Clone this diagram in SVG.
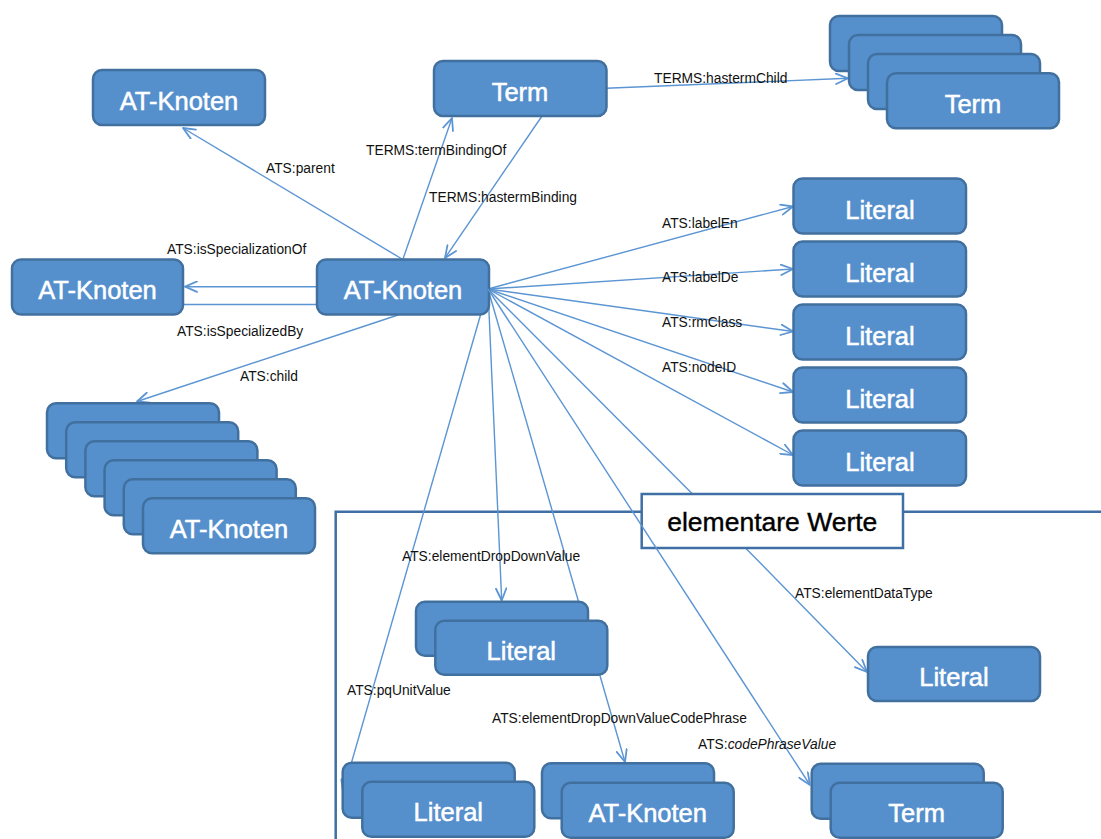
<svg xmlns="http://www.w3.org/2000/svg" width="1101" height="839" viewBox="0 0 1101 839">
  <defs>
    <marker id="arrow" viewBox="0 0 14 12" refX="13" refY="6" markerWidth="14" markerHeight="12" markerUnits="userSpaceOnUse" orient="auto">
      <path d="M1,0.8 L13,6 L1,11.2" fill="none" stroke="#5b95d3" stroke-width="1.8" stroke-linecap="round" stroke-linejoin="round"/>
    </marker>
  </defs>
  <style>
    .node rect { fill: #5590cd; stroke: #41709f; stroke-width: 2.5; }
    .node text { fill: #ffffff; stroke: #ffffff; stroke-width: 0.5; font-family: "Liberation Sans", Arial, sans-serif; font-size: 25.5px; text-anchor: middle; }
    .conn { fill: none; stroke: #5b95d3; stroke-width: 1.4; }
    .arr { marker-end: url(#arrow); }
    .lbl { fill: #111111; font-family: "Liberation Sans", Arial, sans-serif; font-size: 13.8px; }
    .frame { fill: none; stroke: #3f6fa4; stroke-width: 2.5; }
  </style>

  <rect x="0" y="0" width="1101" height="839" fill="#ffffff"/>

  <!-- region frame for elementary values -->
  <g id="frame-elementare-werte">
    <path class="frame" d="M335.7,839 V511.7 H1101"/>
  </g>

  <!-- connectors -->
  <g id="connectors">
    <line class="conn arr" x1="402" y1="259" x2="183" y2="128"/>
    <line class="conn arr" x1="403" y1="259" x2="452" y2="118"/>
    <line class="conn arr" x1="542" y1="116" x2="445" y2="258"/>
    <line class="conn arr" x1="606" y1="88.3" x2="848" y2="78.3"/>
    <line class="conn arr" x1="317" y1="286.7" x2="185" y2="286.7"/>
    <line class="conn" x1="183" y1="304.5" x2="317" y2="304.5"/>
    <line class="conn arr" x1="398" y1="315" x2="137" y2="401.5"/>
    <line class="conn arr" x1="488" y1="289" x2="793" y2="206.5"/>
    <line class="conn arr" x1="488" y1="289" x2="793" y2="269"/>
    <line class="conn arr" x1="488" y1="289" x2="793" y2="331.5"/>
    <line class="conn arr" x1="488" y1="289" x2="793" y2="392"/>
    <line class="conn arr" x1="488" y1="289" x2="793" y2="455"/>
    <line class="conn arr" x1="488" y1="289" x2="501.7" y2="600.5"/>
    <line class="conn arr" x1="488" y1="289" x2="625" y2="762"/>
    <line class="conn arr" x1="488" y1="289" x2="343" y2="792"/>
    <path class="conn arr" d="M488,289 L692,493.5 M746,548.5 L867,672"/>
  </g>

  <!-- nodes -->
  <g id="node-at-knoten-parent" class="node">
    <rect x="93" y="70" width="172" height="55" rx="9"/>
    <text x="179" y="109.5">AT-Knoten</text>
  </g>
  <g id="node-term" class="node">
    <rect x="434" y="61" width="172.5" height="55" rx="9"/>
    <text x="520" y="100.5">Term</text>
  </g>
  <g id="node-term-children" class="node">
    <rect x="830" y="16" width="172" height="55" rx="9"/>
    <rect x="849" y="35" width="172" height="55" rx="9"/>
    <rect x="868" y="54" width="172" height="55" rx="9"/>
    <rect x="887" y="73.3" width="172" height="55" rx="9"/>
    <text x="973" y="112.5">Term</text>
  </g>
  <g id="node-literal-labelEn" class="node">
    <rect x="793.5" y="178.5" width="172.5" height="55" rx="9"/>
    <text x="880" y="218.5">Literal</text>
  </g>
  <g id="node-literal-labelDe" class="node">
    <rect x="793.5" y="241.5" width="172.5" height="55" rx="9"/>
    <text x="880" y="281.5">Literal</text>
  </g>
  <g id="node-literal-rmClass" class="node">
    <rect x="793.5" y="304.5" width="172.5" height="55" rx="9"/>
    <text x="880" y="344.5">Literal</text>
  </g>
  <g id="node-literal-nodeID" class="node">
    <rect x="793.5" y="367.5" width="172.5" height="55" rx="9"/>
    <text x="880" y="407.5">Literal</text>
  </g>
  <g id="node-literal-5" class="node">
    <rect x="793.5" y="430.5" width="172.5" height="55" rx="9"/>
    <text x="880" y="470.5">Literal</text>
  </g>
  <g id="node-at-knoten-specialization" class="node">
    <rect x="12" y="259.5" width="171" height="55" rx="9"/>
    <text x="97.5" y="299">AT-Knoten</text>
  </g>
  <g id="node-at-knoten-center" class="node">
    <rect x="317" y="259.5" width="172" height="55" rx="9"/>
    <text x="403" y="299">AT-Knoten</text>
  </g>
  <g id="node-at-knoten-children" class="node">
    <rect x="47" y="403.3" width="172" height="55" rx="9"/>
    <rect x="66.2" y="422.3" width="172" height="55" rx="9"/>
    <rect x="85.4" y="441.3" width="172" height="55" rx="9"/>
    <rect x="104.6" y="460.3" width="172" height="55" rx="9"/>
    <rect x="123.8" y="479.3" width="172" height="55" rx="9"/>
    <rect x="143" y="498.3" width="172" height="55" rx="9"/>
    <text x="229" y="537.5">AT-Knoten</text>
  </g>
  <g id="node-label-elementare-werte">
    <rect x="641.7" y="494" width="261.3" height="54" fill="#ffffff" stroke="#3f6fa4" stroke-width="2.5"/>
    <text x="772.3" y="531" fill="#000000" stroke="#000000" stroke-width="0.4" font-family="Liberation Sans, Arial, sans-serif" font-size="26.5" text-anchor="middle">elementare Werte</text>
  </g>
  <g id="node-literal-dropdown" class="node">
    <rect x="416" y="601.7" width="172" height="54" rx="9"/>
    <rect x="435.3" y="620.7" width="172" height="54" rx="9"/>
    <text x="521.3" y="659.5">Literal</text>
  </g>
  <g id="node-literal-datatype" class="node">
    <rect x="868" y="647" width="172" height="54" rx="9"/>
    <text x="954" y="685.5">Literal</text>
  </g>
  <g id="node-literal-pqunit" class="node">
    <rect x="342.7" y="762.7" width="172" height="55" rx="9"/>
    <rect x="362.3" y="781.7" width="172" height="55" rx="9"/>
    <text x="448.3" y="821">Literal</text>
  </g>
  <g id="node-at-knoten-codephrase" class="node">
    <rect x="542" y="763.3" width="172" height="55" rx="9"/>
    <rect x="561.7" y="782.7" width="172" height="55" rx="9"/>
    <text x="647.7" y="822">AT-Knoten</text>
  </g>
  <g id="node-term-codephrase" class="node">
    <rect x="811.7" y="763.7" width="172" height="55" rx="9"/>
    <rect x="830.7" y="782.7" width="172" height="55" rx="9"/>
    <text x="916.7" y="822">Term</text>
  </g>

  <!-- connector that runs across the region label -->
  <g id="connector-codephrasevalue">
    <line class="conn arr" x1="488" y1="289" x2="810" y2="785"/>
  </g>

  <!-- connector labels -->
  <g id="connector-labels">
    <text class="lbl" x="266" y="173">ATS:parent</text>
    <text class="lbl" x="366" y="155">TERMS:termBindingOf</text>
    <text class="lbl" x="429" y="202">TERMS:hastermBinding</text>
    <text class="lbl" x="654" y="83">TERMS:hastermChild</text>
    <text class="lbl" x="167" y="254">ATS:isSpecializationOf</text>
    <text class="lbl" x="177" y="336">ATS:isSpecializedBy</text>
    <text class="lbl" x="240" y="381">ATS:child</text>
    <text class="lbl" x="662" y="228">ATS:labelEn</text>
    <text class="lbl" x="662" y="282">ATS:labelDe</text>
    <text class="lbl" x="662" y="327">ATS:rmClass</text>
    <text class="lbl" x="662" y="372">ATS:nodeID</text>
    <text class="lbl" x="402" y="561">ATS:elementDropDownValue</text>
    <text class="lbl" x="347" y="695">ATS:pqUnitValue</text>
    <text class="lbl" x="492" y="723">ATS:elementDropDownValueCodePhrase</text>
    <text class="lbl" x="795" y="598">ATS:elementDataType</text>
    <text class="lbl" x="698" y="749">ATS:<tspan font-style="italic">codePhraseValue</tspan></text>
  </g>
</svg>
